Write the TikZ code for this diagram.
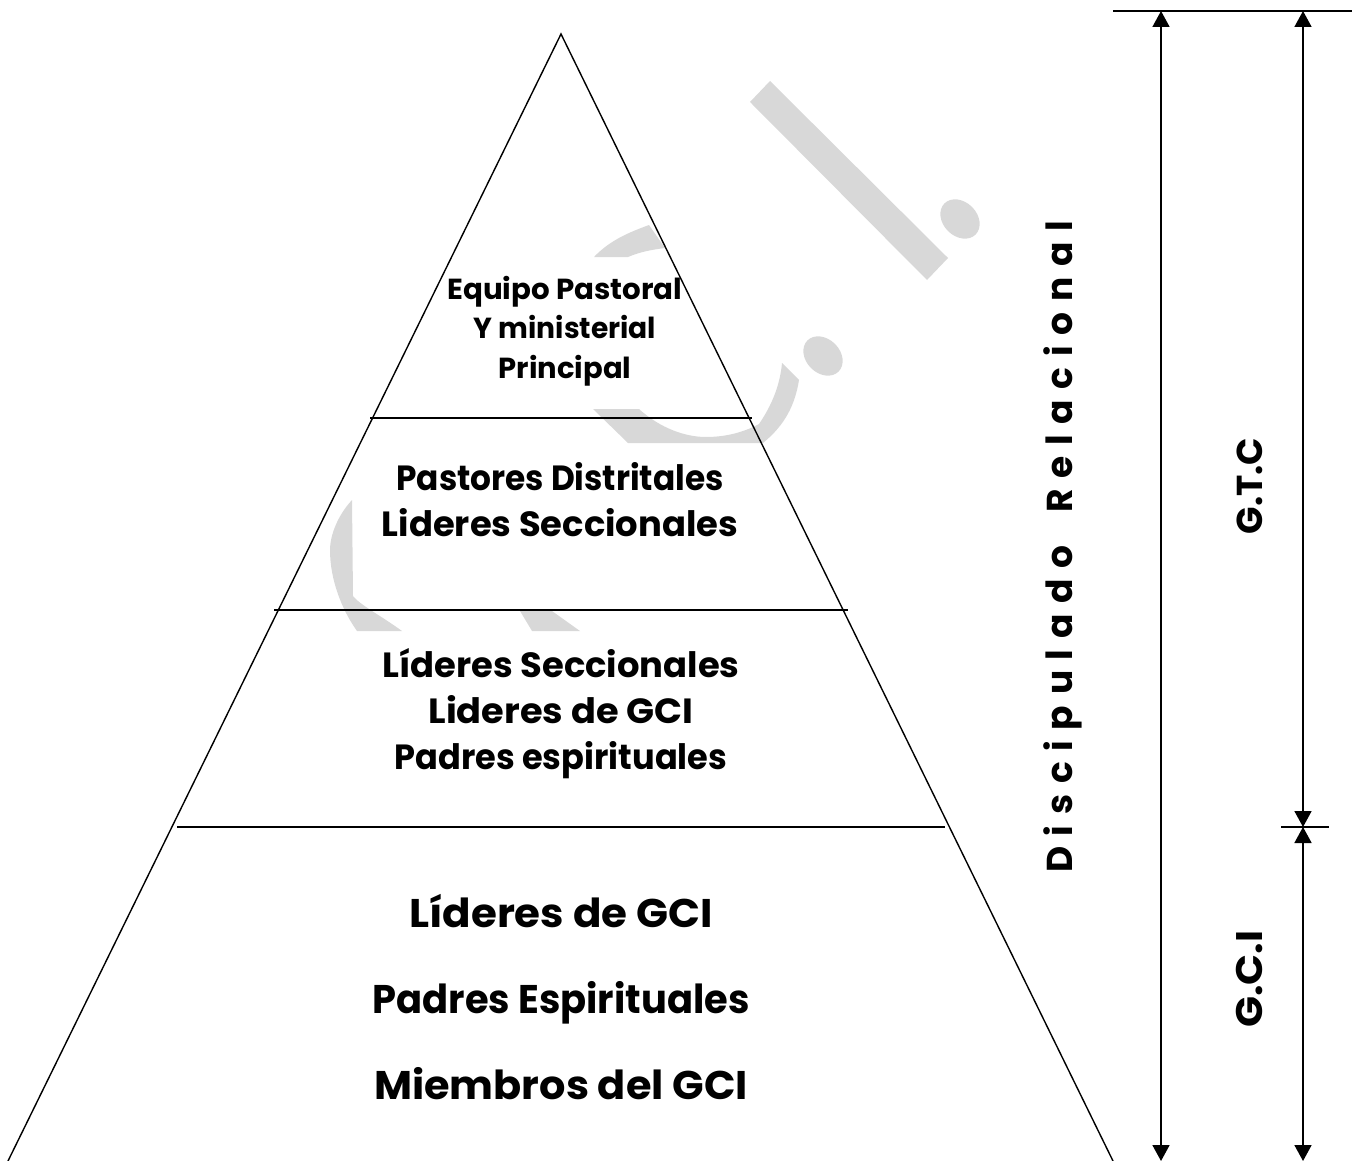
\documentclass[tikz,border=0pt]{standalone}
\usepackage{fontspec}
\usepackage{graphicx}
\setmainfont{Poppins}
\usetikzlibrary{arrows.meta}
\definecolor{wm}{RGB}{216,216,216}
\newcommand{\wl}[2]{\scalebox{#1}[1]{#2}}
\tikzset{
 wmark/.style={fill=wm,draw=none},
 edge/.style={line width=1.4pt,black},
 rule/.style={line width=1.7pt,black},
 dim/.style={line width=1.7pt,black,{Triangle[width=17pt,length=16pt]}-{Triangle[width=17pt,length=16pt]}},
 lab/.style={align=center,inner sep=0pt,font=\bfseries},
}
\begin{document}
\begin{tikzpicture}[x=1pt,y=-1pt]
\useasboundingbox (0,0) rectangle (1359,1161);
% watermark
\fill[wmark] (770,81) -- (750,102) -- (927,280) -- (948,258) -- cycle;
\fill[wmark,rotate around={-45:(960,219)}] (960,219) ellipse [x radius=22,y radius=17];
\fill[wmark,rotate around={-45:(823,356)}] (823,356) ellipse [x radius=22,y radius=17];
\fill[wmark] (594,257) .. controls (610,240) and (630,232) .. (649,225) -- (665,248) .. controls (650,250) and (640,252) .. (628,257) -- cycle;
\fill[wmark] (782,363) -- (799,380) .. controls (795,405) and (785,425) .. (763,443) -- (628,443) -- (593,409) -- (639,409) .. controls (660,428) and (685,437) .. (706,437) .. controls (730,437) and (748,430) .. (759,424) .. controls (772,405) and (780,385) .. (782,363) -- cycle;
\fill[wmark] (352,500) .. controls (338,515) and (330,535) .. (330,550) .. controls (330,580) and (342,610) .. (357,631) -- (402,631) .. controls (380,615) and (360,605) .. (353,596) -- cycle;
\fill[wmark] (520,611) -- (552,611) -- (580,631) -- (532,631) -- cycle;
% pyramid
\coordinate (apex) at (561,34);
\coordinate (bl) at (8,1161);
\coordinate (br) at (1113,1161);
\draw[edge] (bl) -- (apex) -- (br);
\coordinate (a1) at (370,418); \coordinate (a2) at (752,418);
\coordinate (b1) at (274,610); \coordinate (b2) at (848,610);
\coordinate (c1) at (177,827); \coordinate (c2) at (945,827);
\draw[rule] (a1) -- (a2);
\draw[rule] (b1) -- (b2);
\draw[rule] (c1) -- (c2);
% labels
\node[lab,font=\fontsize{29}{39.5}\bfseries\selectfont] (n1) at (565,331) {\wl{1.01}{Equipo Pastoral}\\\wl{.97}{Y ministerial}\\\wl{1}{Principal}};
\node[lab,font=\fontsize{35}{46}\bfseries\selectfont] (n2) at (560,500) {\wl{.937}{Pastores Distritales}\\\wl{1.01}{Lideres Seccionales}};
\node[lab,font=\fontsize{35}{46}\bfseries\selectfont] (n3) at (561,714) {\wl{1.01}{Líderes Seccionales}\\\wl{1.05}{Lideres de GCI}\\\wl{.96}{Padres espirituales}};
\node[lab,font=\fontsize{40}{86}\bfseries\selectfont] (n4) at (561,997) {\wl{1.05}{Líderes de GCI}\\\wl{.96}{Padres Espirituales}\\\wl{1.036}{Miembros del GCI}};
\node[lab,rotate=90,anchor=base,font=\fontsize{36}{36}\bfseries\selectfont] (n5) at (1072,547) {\spaceskip=10.7pt D i s c i p u l a d o\hspace{22pt} R e l a c i o n a l};
\node[lab,rotate=90,anchor=base,font=\fontsize{36}{36}\bfseries\selectfont] (n6) at (1262.5,486) {G.T.C};
\node[lab,rotate=90,anchor=base,font=\fontsize{37}{36}\bfseries\selectfont] (n7) at (1262.5,979) {\wl{1.1}{G.C.I}};
% dimension lines
\coordinate (t1) at (1113,11); \coordinate (t2) at (1352,11);
\coordinate (m1) at (1281,827); \coordinate (m2) at (1329,827);
\coordinate (p1) at (1161,11); \coordinate (p2) at (1161,1161);
\coordinate (q1) at (1303,11); \coordinate (q2) at (1303,827); \coordinate (q3) at (1303,1161);
\draw[rule] (t1) -- (t2);
\draw[rule] (m1) -- (m2);
\draw[dim] (p1) -- (p2);
\draw[dim] (q1) -- (q2);
\draw[dim] (q2) -- (q3);
\end{tikzpicture}
\end{document}
